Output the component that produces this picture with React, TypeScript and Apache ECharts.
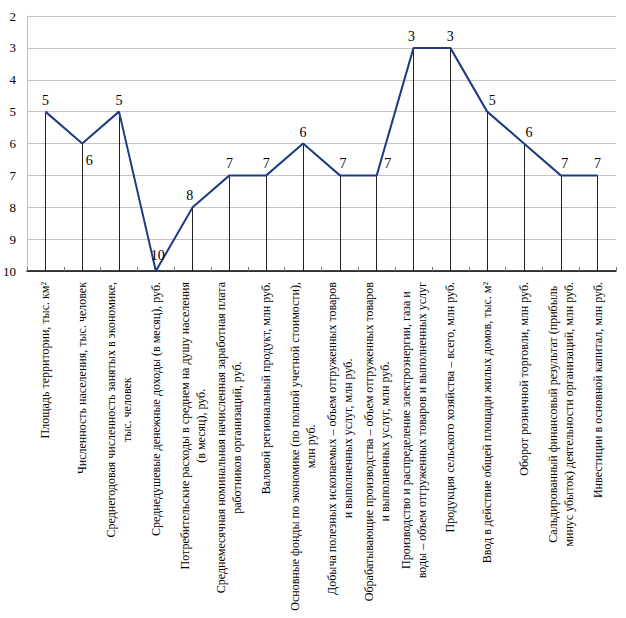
import React, { useEffect, useRef } from "react";
import * as echarts from "echarts";

const categories: string[] = [
  "Площадь территории, тыс. км²",
  "Численность населения, тыс. человек",
  "Среднегодовая численность занятых в экономике,\nтыс. человек",
  "Среднедушевые денежные доходы (в месяц), руб.",
  "Потребительские расходы в среднем на душу населения\n(в месяц), руб.",
  "Среднемесячная номинальная начисленная заработная плата\nработников организаций, руб.",
  "Валовой региональный продукт, млн руб.",
  "Основные фонды по экономике (по полной учетной стоимости),\nмлн руб.",
  "Добыча полезных ископаемых – объем отгруженных товаров\nи выполненных услуг, млн руб.",
  "Обрабатывающие производства – объем отгруженных товаров\nи выполненных услуг, млн руб.",
  "Производство и распределение электроэнергии, газа и\nводы – объем отгруженных товаров и выполненных услуг",
  "Продукция сельского хозяйства – всего, млн руб.",
  "Ввод в действие общей площади жилых домов, тыс. м²",
  "Оборот розничной торговли, млн руб.",
  "Сальдированный финансовый результат (прибыль\nминус убыток) деятельности организаций, млн руб.",
  "Инвестиции в основной капитал, млн руб.",
];

const ranks: number[] = [5, 6, 5, 10, 8, 7, 7, 6, 7, 7, 3, 3, 5, 6, 7, 7];

const yMin = 2;
const yMax = 10;
const yInterval = 1;

// label placement tweaks (style only)
const labelPos: { position: string; offset: [number, number] }[] = [
  { position: "top", offset: [0, 0] },
  { position: "bottom", offset: [7, 5] },
  { position: "top", offset: [0, 0] },
  { position: "top", offset: [2, -4] },
  { position: "top", offset: [-3, 0] },
  { position: "top", offset: [0, 0] },
  { position: "top", offset: [0, 0] },
  { position: "top", offset: [0, 0] },
  { position: "top", offset: [3, 0] },
  { position: "top", offset: [11, 0] },
  { position: "top", offset: [-2, 0] },
  { position: "top", offset: [0, 0] },
  { position: "top", offset: [5, 0] },
  { position: "top", offset: [5, 0] },
  { position: "top", offset: [4, 0] },
  { position: "top", offset: [0, 0] },
];

const SERIF = "Liberation Serif";

export default function App() {
  const ref = useRef<HTMLDivElement>(null);
  useEffect(() => {
    if (!ref.current) return;
    document.body.style.margin = "0";
    const chart = echarts.init(ref.current, undefined, { renderer: "svg" });
    chart.setOption({
      animation: false,
      backgroundColor: "#ffffff",
      textStyle: { fontFamily: SERIF },
      grid: {
        left: 27,
        right: 10,
        top: 16,
        bottom: 347,
        containLabel: false,
        outerBoundsMode: "none",
      },
      xAxis: {
        type: "category",
        data: categories,
        boundaryGap: true,
        position: "bottom",
        axisLine: { onZero: false, lineStyle: { color: "#000", width: 1.5 } },
        axisTick: { show: true, inside: true, length: 4, lineStyle: { color: "#777" } },
        axisLabel: {
          interval: 0,
          rotate: 90,
          margin: 11,
          hideOverlap: false,
          fontFamily: SERIF,
          formatter: (v: string) =>
            v
              .split("\n")
              .map((l) => "{c|" + l + "}")
              .join("\n"),
          rich: {
            c: {
              align: "center",
              fontFamily: SERIF,
              fontSize: 12,
              lineHeight: 16,
              color: "#000",
            },
          },
        },
      },
      yAxis: {
        type: "value",
        inverse: true,
        min: yMin,
        max: yMax,
        interval: yInterval,
        axisLine: { show: true, lineStyle: { color: "#bdbdbd" } },
        axisTick: { show: false },
        axisLabel: { fontFamily: SERIF, fontSize: 13, color: "#000", margin: 11 },
        splitLine: { show: true, lineStyle: { color: "#c4c4c4", width: 1 } },
      },
      series: [
        {
          type: "line",
          data: ranks.map((v, i) => ({
            value: v,
            label: { position: labelPos[i].position, offset: labelPos[i].offset },
          })),
          symbol: "circle",
          symbolSize: 1,
          showSymbol: true,
          itemStyle: { color: "rgba(0,0,0,0)" },
          lineStyle: { color: "#1e3c84", width: 2 },
          z: 3,
          label: {
            show: true,
            fontFamily: SERIF,
            fontSize: 14,
            color: "#000",
            distance: 4,
          },
          markLine: {
            silent: true,
            symbol: ["none", "none"],
            label: { show: false },
            lineStyle: { color: "#222", width: 1, type: "solid" },
            z: 2,
            data: ranks.map((v, i) => [
              { coord: [i, v] },
              { coord: [i, yMax] },
            ]),
          },
        },
      ],
    });
    return () => chart.dispose();
  }, []);
  return <div ref={ref} style={{ width: 626, height: 618 }} />;
}
